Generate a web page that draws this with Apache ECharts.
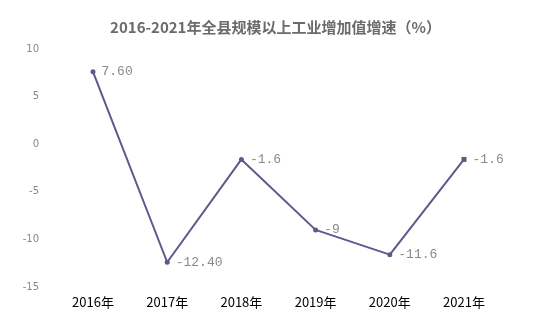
<!DOCTYPE html>
<html>
<head>
<meta charset="utf-8">
<script src="https://cdn.jsdelivr.net/npm/echarts@6/dist/echarts.min.js"></script>
<style>
html,body{margin:0;padding:0;background:#fff;}
#chart{width:551px;height:331px;}
</style>
</head>
<body>
<div id="chart"></div>
<script>
// Years on the category axis
var years = ['2016年', '2017年', '2018年', '2019年', '2020年', '2021年'];
// Growth rate of industrial value added above designated size (%)
var growth = [7.6, -12.4, -1.6, -9, -11.6, -1.6];
// Label text as printed beside each point
var labelText = ['7.60', '-12.40', '-1.6', '-9', '-11.6', '-1.6'];
// Value axis ticks
var yMin = -15, yMax = 10, yStep = 5;

var chart = echarts.init(document.getElementById('chart'));
chart.setOption({
  animation: false,
  backgroundColor: '#fff',
  title: {
    text: '2016-2021年全县规模以上工业增加值增速（%）',
    left: 'center',
    top: 15,
    textStyle: { fontSize: 15, fontWeight: 'bold', color: '#6b6b6b', fontFamily: 'Noto Sans CJK SC' }
  },
  grid: { left: 93, right: 87, top: 49, bottom: 44 },
  xAxis: {
    type: 'category',
    data: years,
    boundaryGap: false,
    axisLine: { show: false },
    axisTick: { show: false },
    axisLabel: { color: '#000', fontSize: 13, margin: 9, fontFamily: 'Noto Sans CJK SC' }
  },
  yAxis: {
    type: 'value',
    min: yMin, max: yMax, interval: yStep,
    axisLine: { show: false },
    axisTick: { show: false },
    splitLine: { show: false },
    axisLabel: { color: '#888', fontSize: 10, margin: 54, fontFamily: 'DejaVu Sans' }
  },
  series: [{
    type: 'line',
    data: growth.map(function (v, i) {
      return { value: v, symbol: i === 5 ? 'rect' : 'circle' };
    }),
    symbolSize: 5,
    lineStyle: { color: '#5b5a8c', width: 2 },
    itemStyle: { color: '#5b5a8c' },
    label: {
      show: true,
      position: 'right',
      distance: 6,
      color: '#8a8a8a',
      fontSize: 13,
      fontFamily: 'Liberation Mono',
      formatter: function (p) { return labelText[p.dataIndex]; }
    }
  }]
});
</script>
</body>
</html>
